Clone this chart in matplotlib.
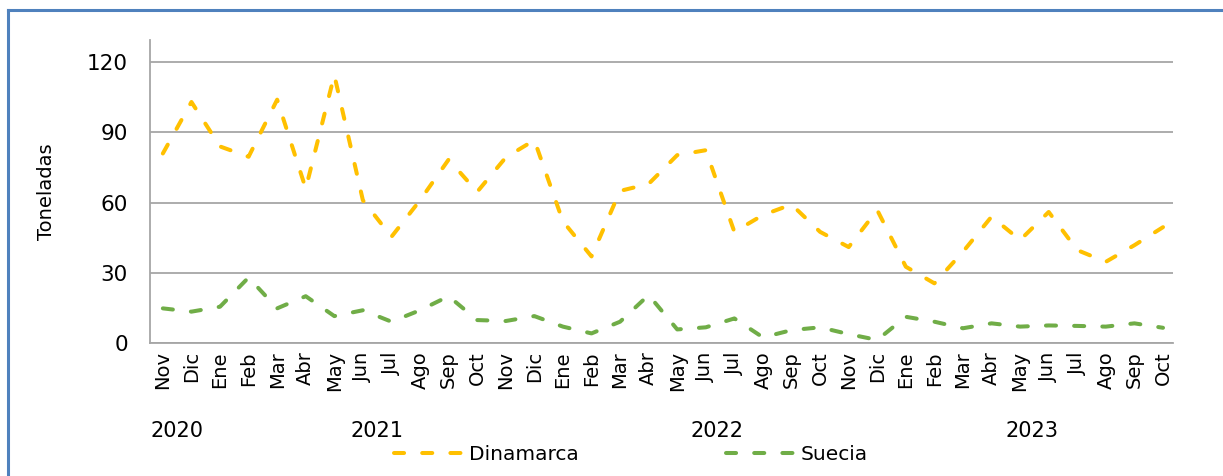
import matplotlib.pyplot as plt
from matplotlib.lines import Line2D

months = ["Nov", "Dic", "Ene", "Feb", "Mar", "Abr", "May", "Jun", "Jul", "Ago", "Sep", "Oct"] * 3
years = ["2020", "2021", "2022", "2023"]
year_pos = [0.5, 7.5, 19.4, 30.4]

dinamarca = [81, 103, 84, 79.6, 104, 66, 114.5, 61, 45.4, 61, 78.4, 64.6,
             79.3, 86.7, 52, 37, 65, 68, 80.3, 82.4, 47.5, 54.7, 59.2, 47.5,
             41, 56.8, 32.6, 25.5, 39, 54, 44, 56, 39.7, 34.7, 41.8, 49.5]
suecia = [14.8, 13.4, 15.5, 28, 14.8, 20, 11.5, 14, 9.1, 14, 20, 9.8,
          9.4, 11.5, 7, 4.1, 9.1, 20.5, 5.8, 6.7, 10.5, 2.4, 5.5, 6.7,
          3.8, 1.3, 11.2, 9.1, 6.3, 8.4, 7, 7.5, 7.3, 7, 8.4, 6.5]

plt.rcParams["font.family"] = ["DejaVu Sans"]

fig = plt.figure(figsize=(12.23, 4.76), dpi=100)
ax = fig.add_axes([150 / 1223, 1 - 343 / 476, (1173 - 150) / 1223, (343 - 40) / 476])

x = list(range(len(months)))
for vals, color, name in [(dinamarca, "#FFC000", "Dinamarca"), (suecia, "#70AD47", "Suecia")]:
    ln, = ax.plot(x, vals, color=color, lw=2.9, label=name,
                  dash_capstyle="round", solid_joinstyle="round")
    ln.set_dashes((2.5, 4.5))

ax.set_xlim(-0.45, 35.35)
ax.set_ylim(0, 129.5)
ax.set_yticks([0, 30, 60, 90, 120])
ax.set_xticks(x)
ax.set_xticklabels(months, rotation=90)
ax.tick_params(axis="x", length=0, labelsize=14, pad=6)
ax.tick_params(axis="y", length=0, labelsize=15.5, pad=16)
ax.grid(axis="y", color="#A6A6A6", lw=1.3)
ax.set_axisbelow(True)
for side in ["top", "right"]:
    ax.spines[side].set_visible(False)
for side in ["left", "bottom"]:
    ax.spines[side].set_color("#A6A6A6")
    ax.spines[side].set_linewidth(1.3)

ax.set_ylabel("Toneladas", fontsize=14, labelpad=22)

for yr, pos in zip(years, year_pos):
    ax.text(pos, -0.29, yr, transform=ax.get_xaxis_transform(),
            ha="center", va="center", fontsize=15)

fig.legend(loc="center", bbox_to_anchor=(0.516, 0.046), ncol=2, frameon=False,
           fontsize=14.5, handlelength=3.5, handletextpad=0.2, columnspacing=7.35)

# outer frame: top and left edges
fig.add_artist(Line2D([8 / 1223, 1], [1 - 10 / 476, 1 - 10 / 476],
                      transform=fig.transFigure, color="#4F81BD", lw=2.2))
fig.add_artist(Line2D([8 / 1223, 8 / 1223], [0, 1 - 10 / 476],
                      transform=fig.transFigure, color="#4F81BD", lw=2.2))

fig.savefig("out.png", dpi=100)
